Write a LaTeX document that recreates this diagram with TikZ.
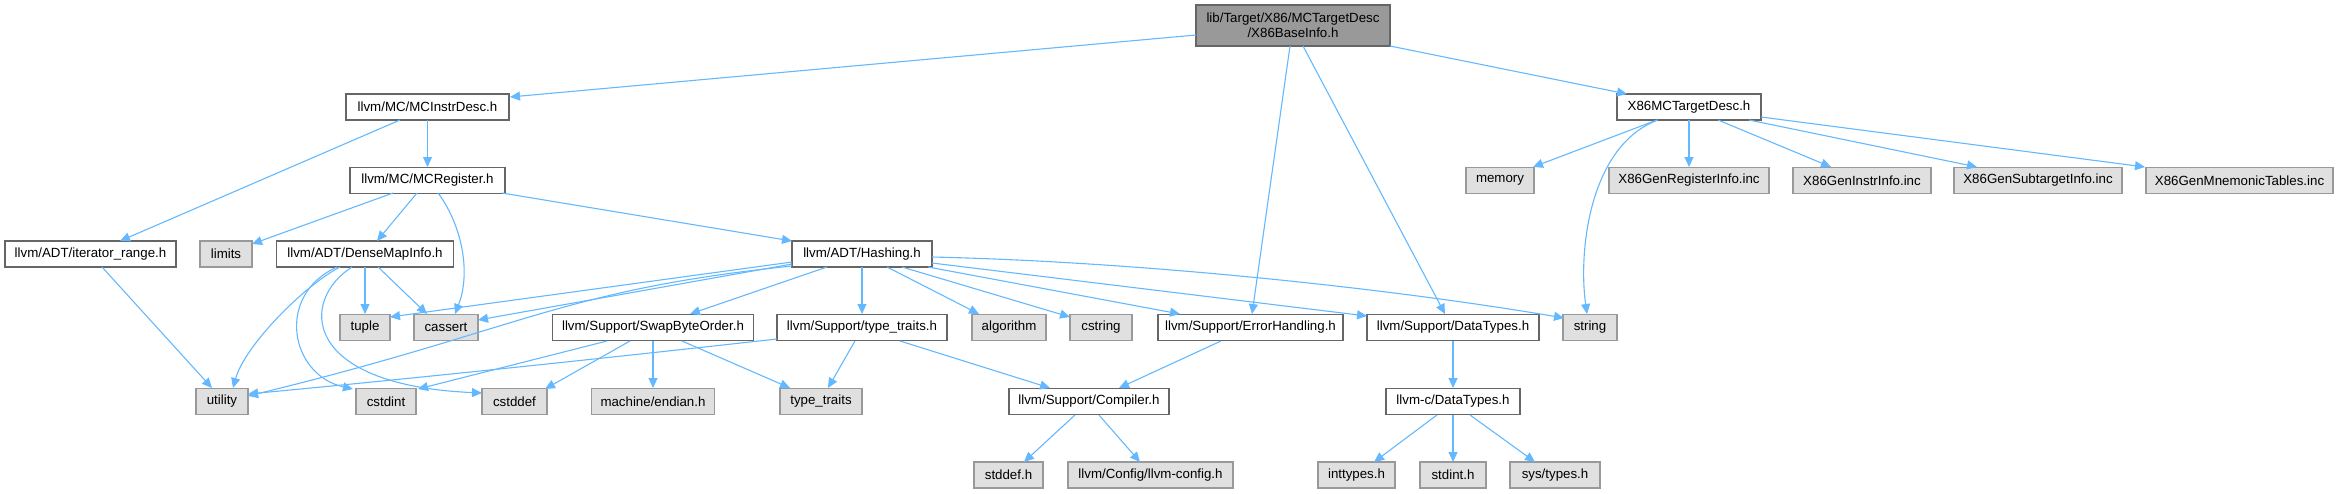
\documentclass[tikz,border=0pt]{standalone}
\usepackage{fontspec}
\setmainfont{Liberation Sans}
\usetikzlibrary{arrows.meta,calc}
\definecolor{edgec}{HTML}{63B8FF}
\definecolor{cdark}{HTML}{666666}
\definecolor{cmid}{HTML}{999999}
\definecolor{clight}{HTML}{E0E0E0}
\tikzset{
  base/.style={rectangle, inner sep=0pt, minimum height=26pt, font=\fontsize{13.3}{15}\selectfont, line width=1.3pt, text=black},
  intn/.style={base, draw=cdark, fill=white},
  extn/.style={base, draw=cmid, fill=clight},
  rootn/.style={base, draw=cdark, fill=cmid, minimum height=41pt, align=center},
  dep/.style={draw=edgec, line width=1.1pt, -{Triangle[length=10pt,width=9pt]}}
}
\begin{document}
\begin{tikzpicture}[x=1pt,y=-1pt]
\useasboundingbox (0,0) rectangle (2339,493);
% nodes
\node[rootn, minimum width=194pt] (root) at (1293,25.5) {lib/Target/X86/MCTargetDesc\\/X86BaseInfo.h};
\node[intn, minimum width=163pt] (mcinstr) at (427.5,107) {llvm/MC/MCInstrDesc.h};
\node[intn, minimum width=144pt] (x86mc) at (1689,107) {X86MCTargetDesc.h};
\node[intn, minimum width=155pt] (mcreg) at (427.5,180.5) {llvm/MC/MCRegister.h};
\node[extn, minimum width=68pt] (memory) at (1500,180.5) {memory};
\node[extn, minimum width=160pt] (genreg) at (1689,180.5) {X86GenRegisterInfo.inc};
\node[extn, minimum width=138pt] (geninstr) at (1862,180.5) {X86GenInstrInfo.inc};
\node[extn, minimum width=168pt] (gensub) at (2038,180.5) {X86GenSubtargetInfo.inc};
\node[extn, minimum width=187pt] (genmn) at (2239.5,180.5) {X86GenMnemonicTables.inc};
\node[intn, minimum width=171pt] (iter) at (90.5,254) {llvm/ADT/iterator\_range.h};
\node[extn, minimum width=52pt] (limits) at (226,254) {limits};
\node[intn, minimum width=177pt] (dense) at (365,254) {llvm/ADT/DenseMapInfo.h};
\node[intn, minimum width=140pt] (hashing) at (862,254) {llvm/ADT/Hashing.h};
\node[extn, minimum width=50pt] (tuple) at (365,327.5) {tuple};
\node[extn, minimum width=64pt] (cassert) at (446,327.5) {cassert};
\node[intn, minimum width=201pt] (swap) at (653,327.5) {llvm/Support/SwapByteOrder.h};
\node[intn, minimum width=170pt] (ttraitsh) at (862,327.5) {llvm/Support/type\_traits.h};
\node[extn, minimum width=74pt] (algorithm) at (1009,327.5) {algorithm};
\node[extn, minimum width=62pt] (cstring) at (1101,327.5) {cstring};
\node[intn, minimum width=185pt] (errh) at (1250.5,327.5) {llvm/Support/ErrorHandling.h};
\node[intn, minimum width=172pt] (dtypes) at (1453,327.5) {llvm/Support/DataTypes.h};
\node[extn, minimum width=54pt] (string) at (1590,327.5) {string};
\node[extn, minimum width=52pt] (utility) at (222,401.5) {utility};
\node[extn, minimum width=60pt] (cstdint) at (386,401.5) {cstdint};
\node[extn, minimum width=65pt] (cstddef) at (514.5,401.5) {cstddef};
\node[extn, minimum width=123pt] (endian) at (653,401.5) {machine/endian.h};
\node[extn, minimum width=82pt] (ttraits) at (821,401.5) {type\_traits};
\node[intn, minimum width=160pt] (compiler) at (1089,401.5) {llvm/Support/Compiler.h};
\node[intn, minimum width=134pt] (cdtypes) at (1453,401.5) {llvm-c/DataTypes.h};
\node[extn, minimum width=69pt] (stddef) at (1008.5,475) {stddef.h};
\node[extn, minimum width=165pt] (llvmcfg) at (1150.5,475) {llvm/Config/llvm-config.h};
\node[extn, minimum width=77pt] (inttypes) at (1356.5,475) {inttypes.h};
\node[extn, minimum width=66pt] (stdint) at (1453,475) {stdint.h};
\node[extn, minimum width=90pt] (systypes) at (1555,475) {sys/types.h};
% edges
\draw[dep] ($(root)+(-97,9.5)$) -- ($(mcinstr)+(82.5,-10)$);
\draw[dep] ($(root)+(-3,20.5)$) -- ($(errh)+(1.5,-13.5)$);
\draw[dep] ($(root)+(10,20.5)$) -- ($(dtypes)+(-8,-13.5)$);
\draw[dep] ($(root)+(97,20.5)$) -- ($(x86mc)+(-62,-13)$);
\draw[dep] ($(mcinstr)+(-27.5,13)$) -- ($(iter)+(29.5,-13)$);
\draw[dep] ($(mcinstr)+(0,13)$) -- ($(mcreg)+(0,-13.5)$);
\draw[dep] ($(mcreg)+(-34.5,12.5)$) -- ($(limits)+(26,-10)$);
\draw[dep] ($(mcreg)+(-10.5,12.5)$) -- ($(dense)+(12,-13)$);
\draw[dep] ($(mcreg)+(10.5,12.5)$) .. controls (460,222) and (472,270) .. ($(cassert)+(9,-13.5)$);
\draw[dep] ($(mcreg)+(74.5,12.5)$) -- ($(hashing)+(-70,-13)$);
\draw[dep] ($(iter)+(11.5,13)$) -- ($(utility)+(-10,-13.5)$);
\draw[dep] ($(dense)+(0,13)$) -- ($(tuple)+(0,-13.5)$);
\draw[dep] ($(dense)+(13,13)$) -- ($(cassert)+(-19,-13.5)$);
\draw[dep] ($(dense)+(-25,13)$) .. controls (305,285) and (245,345) .. ($(utility)+(11,-13.5)$);
\draw[dep] ($(dense)+(-28,13)$) .. controls (275,295) and (290,375) .. ($(cstdint)+(-33,-12.5)$);
\draw[dep] ($(dense)+(-13,13)$) .. controls (300,300) and (300,385) .. ($(cstddef)+(-32.5,-8.5)$);
\draw[dep] ($(hashing)+(-70,8)$) -- ($(tuple)+(25,-10.5)$);
\draw[dep] ($(hashing)+(-70,10)$) -- ($(cassert)+(32,-7.5)$);
\draw[dep] ($(hashing)+(-70,12)$) .. controls (560,290) and (520,330) .. ($(utility)+(26,-5.5)$);
\draw[dep] ($(hashing)+(-35,13)$) -- ($(swap)+(37,-13.5)$);
\draw[dep] ($(hashing)+(0,13)$) -- ($(ttraitsh)+(0,-13.5)$);
\draw[dep] ($(hashing)+(25,13)$) -- ($(algorithm)+(-30,-13.5)$);
\draw[dep] ($(hashing)+(40,13)$) -- ($(cstring)+(-31,-10.5)$);
\draw[dep] ($(hashing)+(66,13)$) -- ($(errh)+(-70.5,-13.5)$);
\draw[dep] ($(hashing)+(70,9)$) -- ($(dtypes)+(-86,-11.5)$);
\draw[dep] ($(hashing)+(70,3)$) .. controls (1150,262) and (1400,290) .. ($(string)+(-26,-9.5)$);
\draw[dep] ($(swap)+(-46,13.5)$) -- ($(cstdint)+(32,-12.5)$);
\draw[dep] ($(swap)+(-23,13.5)$) -- ($(cstddef)+(30.5,-12.5)$);
\draw[dep] ($(swap)+(0,13.5)$) -- ($(endian)+(0,-13.5)$);
\draw[dep] ($(swap)+(29,13.5)$) -- ($(ttraits)+(-31,-13.5)$);
\draw[dep] ($(ttraitsh)+(-85,11.5)$) .. controls (660,352) and (450,375) .. ($(utility)+(26,-7.5)$);
\draw[dep] ($(ttraitsh)+(-7,13.5)$) -- ($(ttraits)+(7,-13.5)$);
\draw[dep] ($(ttraitsh)+(38,13.5)$) -- ($(compiler)+(-39,-13.5)$);
\draw[dep] ($(errh)+(-29.5,13.5)$) -- ($(compiler)+(30,-13.5)$);
\draw[dep] ($(dtypes)+(0,13.5)$) -- ($(cdtypes)+(0,-13.5)$);
\draw[dep] ($(compiler)+(-14,13.5)$) -- ($(stddef)+(15.5,-13)$);
\draw[dep] ($(compiler)+(10,13.5)$) -- ($(llvmcfg)+(-10.5,-13)$);
\draw[dep] ($(cdtypes)+(-16,13.5)$) -- ($(inttypes)+(17.5,-13)$);
\draw[dep] ($(cdtypes)+(0,13.5)$) -- ($(stdint)+(0,-13)$);
\draw[dep] ($(cdtypes)+(17,13.5)$) -- ($(systypes)+(-20,-13)$);
\draw[dep] ($(x86mc)+(-32,13)$) -- ($(memory)+(33,-13.5)$);
\draw[dep] ($(x86mc)+(-31,13)$) .. controls (1590,145) and (1578,250) .. ($(string)+(-3,-13.5)$);
\draw[dep] ($(x86mc)+(0,13)$) -- ($(genreg)+(0,-13.5)$);
\draw[dep] ($(x86mc)+(29,13)$) -- ($(geninstr)+(-31,-13.5)$);
\draw[dep] ($(x86mc)+(60,13)$) -- ($(gensub)+(-61,-13.5)$);
\draw[dep] ($(x86mc)+(72,10)$) -- ($(genmn)+(-94.5,-13.5)$);
\end{tikzpicture}
\end{document}
